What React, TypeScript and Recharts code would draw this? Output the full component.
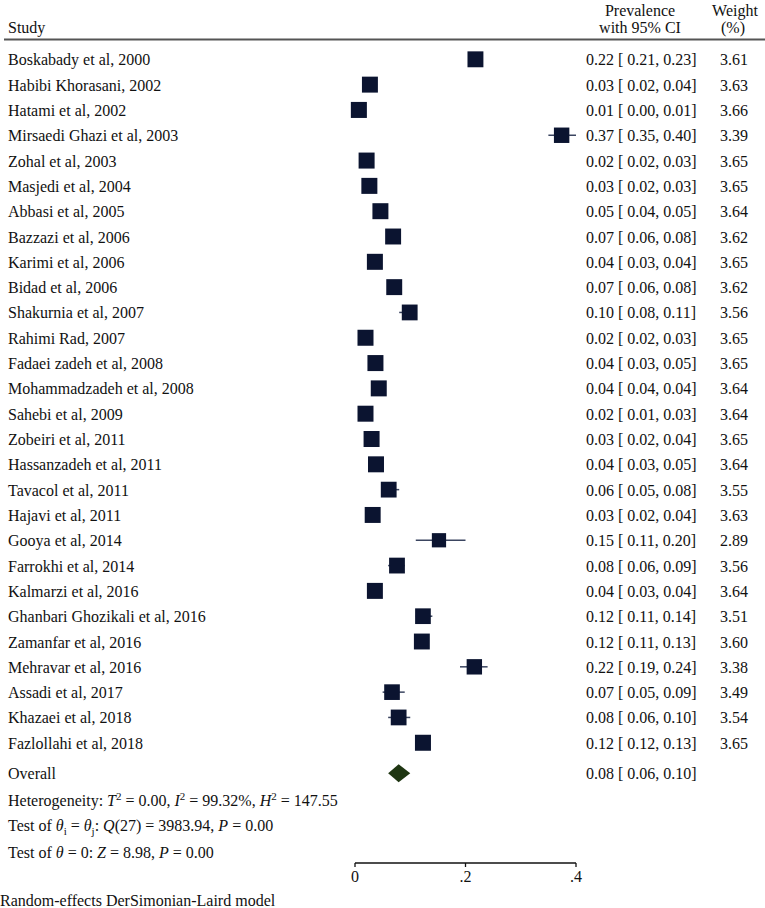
import { ScatterChart, Scatter, XAxis, YAxis, ErrorBar, Customized } from 'recharts'

const STUDIES = [
  'Boskabady et al, 2000',
  'Habibi Khorasani, 2002',
  'Hatami et al, 2002',
  'Mirsaedi Ghazi et al, 2003',
  'Zohal et al, 2003',
  'Masjedi et al, 2004',
  'Abbasi et al, 2005',
  'Bazzazi et al, 2006',
  'Karimi et al, 2006',
  'Bidad et al, 2006',
  'Shakurnia et al, 2007',
  'Rahimi Rad, 2007',
  'Fadaei zadeh et al, 2008',
  'Mohammadzadeh et al, 2008',
  'Sahebi et al, 2009',
  'Zobeiri et al, 2011',
  'Hassanzadeh et al, 2011',
  'Tavacol et al, 2011',
  'Hajavi et al, 2011',
  'Gooya et al, 2014',
  'Farrokhi et al, 2014',
  'Kalmarzi et al, 2016',
  'Ghanbari Ghozikali et al, 2016',
  'Zamanfar et al, 2016',
  'Mehravar et al, 2016',
  'Assadi et al, 2017',
  'Khazaei et al, 2018',
  'Fazlollahi et al, 2018',
]

const EST = [
  0.218, 0.027, 0.007, 0.374, 0.021, 0.026, 0.046, 0.069, 0.036, 0.071,
  0.099, 0.019, 0.037, 0.043, 0.019, 0.03, 0.038, 0.061, 0.032, 0.152,
  0.076, 0.036, 0.123, 0.121, 0.216, 0.067, 0.079, 0.123,
]
const LO = [
  0.21, 0.02, 0.0, 0.35, 0.02, 0.02, 0.04, 0.06, 0.03, 0.06,
  0.08, 0.02, 0.03, 0.04, 0.01, 0.02, 0.03, 0.05, 0.02, 0.11,
  0.06, 0.03, 0.11, 0.11, 0.19, 0.05, 0.06, 0.12,
]
const HI = [
  0.23, 0.04, 0.01, 0.4, 0.03, 0.03, 0.05, 0.08, 0.04, 0.08,
  0.11, 0.03, 0.05, 0.04, 0.03, 0.04, 0.05, 0.08, 0.04, 0.2,
  0.09, 0.04, 0.14, 0.13, 0.24, 0.09, 0.1, 0.13,
]
const WEIGHT = [
  3.61, 3.63, 3.66, 3.39, 3.65, 3.65, 3.64, 3.62, 3.65, 3.62,
  3.56, 3.65, 3.65, 3.64, 3.64, 3.65, 3.64, 3.55, 3.63, 2.89,
  3.56, 3.64, 3.51, 3.6, 3.38, 3.49, 3.54, 3.65,
]

const OVERALL_EST = 0.079
const OVERALL_LO = 0.06
const OVERALL_HI = 0.1

const X_TICKS = [0, 0.2, 0.4]

// row positions (in row units, top = 0)
const OVERALL_ROW = 28.2
const FOOTER_ROWS = [29.25, 30.25, 31.3]

const W = 765
const H = 908
const LEFT_W = 355
const RIGHT_W = 189
const X_MAX = 0.4
const PX_PER_UNIT = (W - LEFT_W - RIGHT_W) / X_MAX
const CI_X = 586
const WT_X = 748

const FONT = '"Liberation Serif", "Times New Roman", serif'
const NAVY = '#0b1430'
const GREEN = '#1f3612'

const rows = STUDIES.map((name, i) => ({
  name,
  x: EST[i],
  y: i,
  w: WEIGHT[i],
  err: [Math.max(0, EST[i] - LO[i]), Math.max(0, HI[i] - EST[i])],
}))

const overall = [{ x: OVERALL_EST, y: OVERALL_ROW, lo: OVERALL_LO, hi: OVERALL_HI }]

const ciText = (e: number, l: number, h: number) =>
  `${e.toFixed(2)} [ ${l.toFixed(2)}, ${h.toFixed(2)}]`

const Sq = (props: any) => {
  const { cx, cy, payload } = props
  const s = 16 * Math.sqrt(payload.w / 3.65)
  return <rect x={cx - s / 2} y={cy - s / 2} width={s} height={s} fill={NAVY} />
}

const Diamond = (props: any) => {
  const { cx, cy, payload } = props
  const l = cx - (payload.x - payload.lo) * PX_PER_UNIT
  const r = cx + (payload.hi - payload.x) * PX_PER_UNIT
  return <polygon points={`${l},${cy} ${cx},${cy - 9} ${r},${cy} ${cx},${cy + 9}`} fill={GREEN} />
}

const it = { fontStyle: 'italic' as const }

function footerLine(k: number) {
  if (k === 0)
    return (
      <>
        <tspan>Heterogeneity: </tspan>
        <tspan style={it}>T</tspan>
        <tspan dy={-6} fontSize={11}>2</tspan>
        <tspan dy={6}> = 0.00, </tspan>
        <tspan style={it}>I</tspan>
        <tspan dy={-6} fontSize={11}>2</tspan>
        <tspan dy={6}> = 99.32%, </tspan>
        <tspan style={it}>H</tspan>
        <tspan dy={-6} fontSize={11}>2</tspan>
        <tspan dy={6}> = 147.55</tspan>
      </>
    )
  if (k === 1)
    return (
      <>
        <tspan>Test of </tspan>
        <tspan style={it}>θ</tspan>
        <tspan dy={4} fontSize={11}>i</tspan>
        <tspan dy={-4}> = </tspan>
        <tspan style={it}>θ</tspan>
        <tspan dy={4} fontSize={11}>j</tspan>
        <tspan dy={-4}>: </tspan>
        <tspan style={it}>Q</tspan>
        <tspan>(27) = 3983.94, </tspan>
        <tspan style={it}>P</tspan>
        <tspan> = 0.00</tspan>
      </>
    )
  return (
    <>
      <tspan>Test of </tspan>
      <tspan style={it}>θ</tspan>
      <tspan> = 0: </tspan>
      <tspan style={it}>Z</tspan>
      <tspan> = 8.98, </tspan>
      <tspan style={it}>P</tspan>
      <tspan> = 0.00</tspan>
    </>
  )
}

// one tick per row: study name on the left, CI and weight columns on the right
const RowTick = (props: any) => {
  const { y, payload } = props
  const v = payload.value
  const base = { y: y + 6, fontSize: 16, fontFamily: FONT, fill: '#111' }
  if (FOOTER_ROWS.includes(v)) {
    return <text x={8} {...base}>{footerLine(FOOTER_ROWS.indexOf(v))}</text>
  }
  if (v === OVERALL_ROW) {
    return (
      <g>
        <text x={8} {...base}>Overall</text>
        <text x={CI_X} {...base}>{ciText(OVERALL_EST, OVERALL_LO, OVERALL_HI)}</text>
      </g>
    )
  }
  return (
    <g>
      <text x={8} {...base}>{STUDIES[v]}</text>
      <text x={CI_X} {...base}>{ciText(EST[v], LO[v], HI[v])}</text>
      <text x={WT_X} {...base} textAnchor="end">{WEIGHT[v].toFixed(2)}</text>
    </g>
  )
}

const Header = () => (
  <g fontFamily={FONT} fontSize={16} fill="#111">
    <text x={8} y={33}>Study</text>
    <text x={640} y={16} textAnchor="middle">Prevalence</text>
    <text x={640} y={33} textAnchor="middle">with 95% CI</text>
    <text x={735} y={16} textAnchor="middle">Weight</text>
    <text x={733} y={33} textAnchor="middle">(%)</text>
    <line x1={4} x2={W} y1={39.5} y2={39.5} stroke="#555" strokeWidth={2} />
    <text x={0} y={906}>Random-effects DerSimonian-Laird model</text>
  </g>
)

const STUDY_TICKS = STUDIES.map((_, i) => i)

export default function App() {
  return (
    <div style={{ position: 'absolute', left: 0, top: 0, background: '#fff' }}>
      <ScatterChart width={W} height={H} margin={{ top: 34, right: RIGHT_W, bottom: 15, left: 0 }}>
        <XAxis
          type="number"
          dataKey="x"
          domain={[0, X_MAX]}
          ticks={X_TICKS}
          height={30}
          tickSize={4}
          tickMargin={4}
          tickFormatter={(v: number) => (v === 0 ? '0' : String(v).replace('0.', '.'))}
          axisLine={{ stroke: '#111', strokeWidth: 1.3 }}
          tickLine={{ stroke: '#111', strokeWidth: 1.3 }}
          tick={{ fill: '#111', fontSize: 16, fontFamily: FONT }}
        />
        <YAxis
          yAxisId="left"
          type="number"
          dataKey="y"
          domain={[-1, 31.75]}
          reversed
          width={LEFT_W}
          ticks={[...STUDY_TICKS, OVERALL_ROW, ...FOOTER_ROWS]}
          interval={0}
          axisLine={false}
          tickLine={false}
          tick={<RowTick />}
        />
        <Scatter yAxisId="left" data={rows} shape={<Sq />} isAnimationActive={false}>
          <ErrorBar dataKey="err" direction="x" width={0} stroke="#3b4560" strokeWidth={1.5} />
        </Scatter>
        <Scatter yAxisId="left" data={overall} shape={<Diamond />} isAnimationActive={false} />
        <Customized component={<Header />} />
      </ScatterChart>
    </div>
  )
}
